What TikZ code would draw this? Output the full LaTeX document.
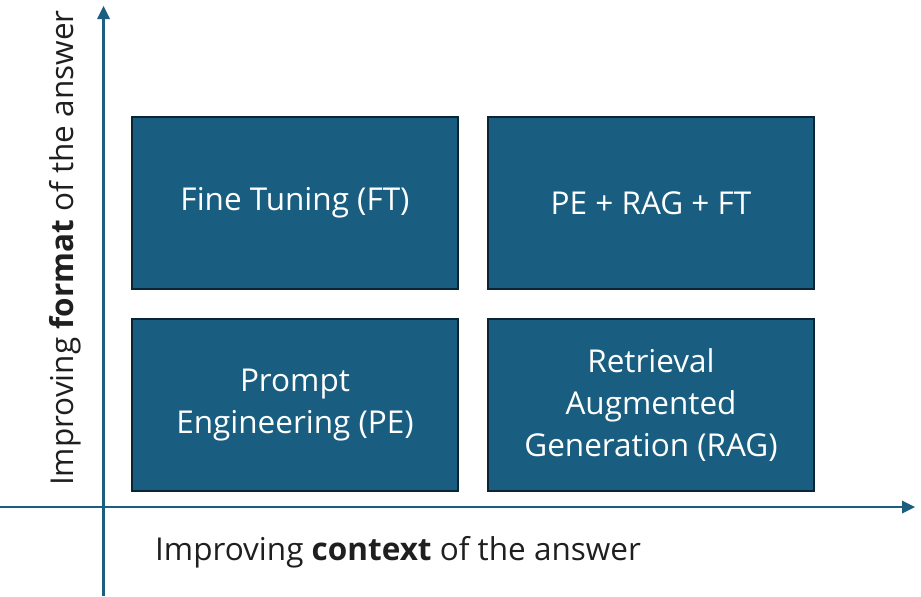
\documentclass[tikz,border=0pt]{standalone}
\usepackage{fontspec}
\setmainfont{Open Sans}
\definecolor{boxfill}{HTML}{195E80}
\definecolor{boxedge}{HTML}{0A2535}
\definecolor{axiscol}{HTML}{1B5E80}
\definecolor{labelcol}{HTML}{1F1F1F}
\begin{document}
\begin{tikzpicture}[x=1pt,y=-1pt,
  quad/.style={draw=boxedge,line width=2.5pt,fill=boxfill,text=white,minimum width=326pt,minimum height=172pt,inner sep=0pt,align=center,font=\fontsize{31.5}{42}\selectfont},
  axis/.style={draw=axiscol,line width=2.5pt},
  tipstyle/.style={fill=axiscol,draw=none},
  axlabel/.style={text=labelcol,font=\fontsize{31.5}{36}\selectfont,inner sep=0pt}]
\useasboundingbox (0,0) rectangle (921,597);
\node[quad] (ft) at (295,203) {Fine Tuning (FT)};
\node[quad] (all) at (651,203) {PE + RAG + FT};
\node[quad] (pe) at (295,405) {Prompt\\Engineering (PE)};
\node[quad] (rag) at (651,405) {Retrieval\\Augmented\\Generation (RAG)};
\coordinate (yb) at (103.5,596);
\coordinate (yt) at (103.5,19);
\coordinate (ytip) at (103.5,6);
\coordinate (xl) at (0,507);
\coordinate (xr) at (902,507);
\coordinate (xtip) at (915,507);
\draw[axis] (yb) -- (yt);
\draw[axis] (xl) -- (xr);
\fill[tipstyle] (ytip) -- ([xshift=-6.5pt]yt) -- ([xshift=6.5pt]yt) -- cycle;
\fill[tipstyle] (xtip) -- ([yshift=-6.5pt]xr) -- ([yshift=6.5pt]xr) -- cycle;
\node[axlabel,anchor=base west] (xlab) at (155,560) {Improving \textbf{context} of the answer};
\node[axlabel,anchor=base west,rotate=90] (ylab) at (73,486) {Improving \textbf{format} of the answer};
\end{tikzpicture}
\end{document}
